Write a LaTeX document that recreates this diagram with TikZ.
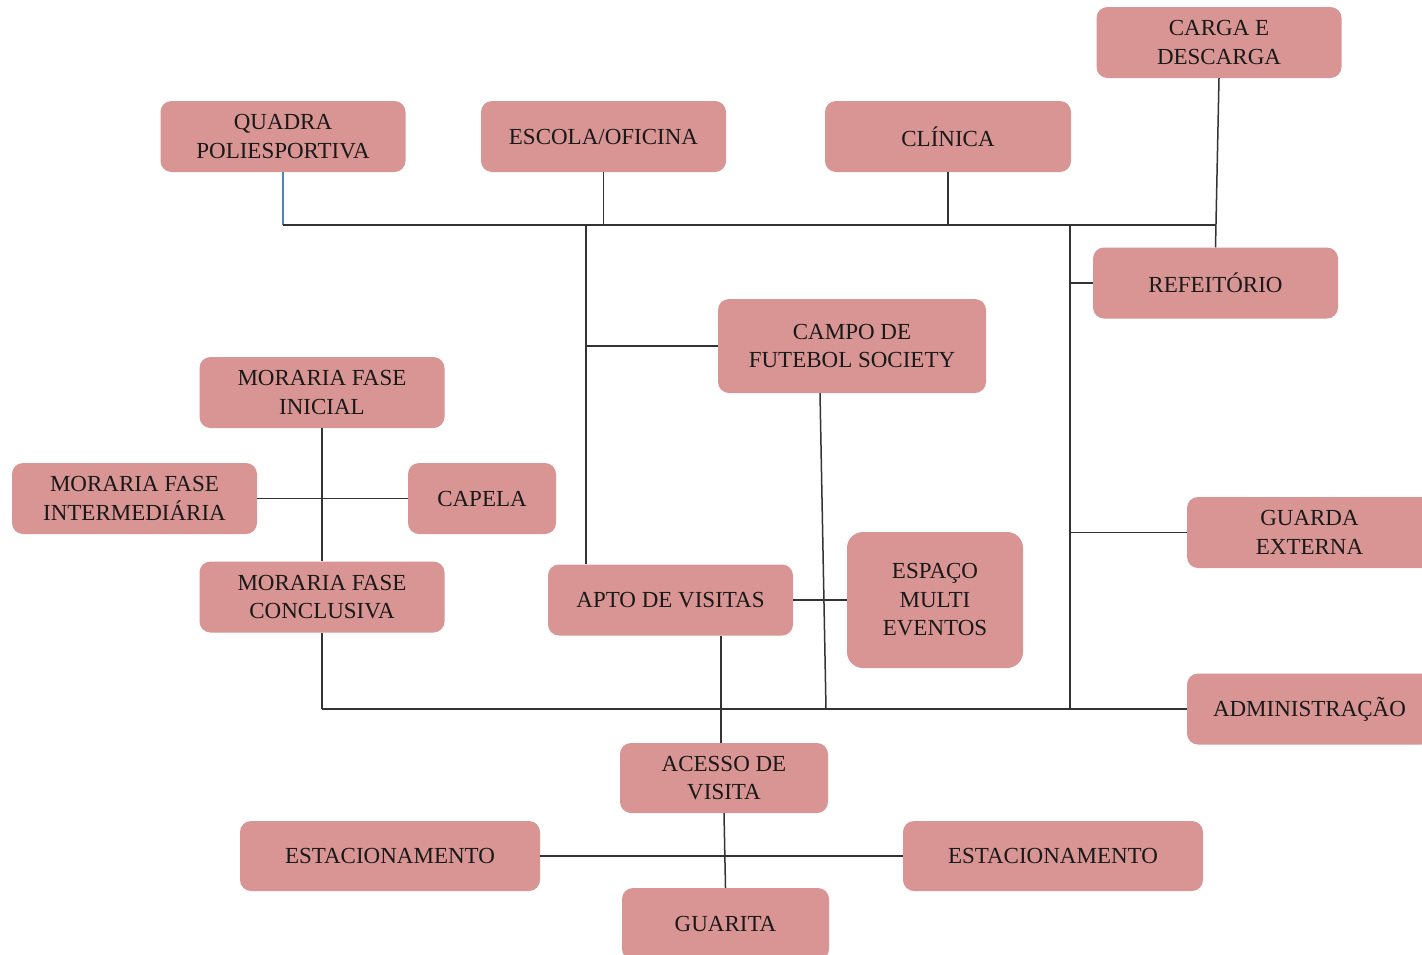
\documentclass[tikz,border=0pt]{standalone}
\usepackage{fontspec}
\setmainfont{Liberation Serif}
\usetikzlibrary{positioning}
\definecolor{rosa}{HTML}{D99594}
\definecolor{azul}{HTML}{4F81BD}

\begin{document}
\begin{tikzpicture}[x=1pt, y=-1pt,
	bloco/.style={fill=rosa, rounded corners=11pt, align=center, inner sep=0pt, minimum width=245pt, minimum height=71pt, font=\fontsize{23}{28.5}\selectfont, text=black!90},
	liga/.style={draw=black!80, line width=1.5pt}]
	\clip (0,0) rectangle (1422,954);
	\fill[white] (0,0) rectangle (1422,954);
	\node[bloco] (quadra) at (283,136.5) {QUADRA\\POLIESPORTIVA};
	\node[bloco] (escola) at (603.5,136.5) {ESCOLA/OFICINA};
	\node[bloco, minimum width=246pt] (clinica) at (948,136.5) {CLÍNICA};
	\node[bloco] (carga) at (1219,42.5) {CARGA E\\DESCARGA};
	\node[bloco] (refeitorio) at (1215.5,283) {REFEITÓRIO};
	\node[bloco, minimum width=268pt, minimum height=94pt] (campo) at (852,346) {CAMPO DE\\FUTEBOL SOCIETY};
	\node[bloco] (inicial) at (322,392.5) {MORARIA FASE\\INICIAL};
	\node[bloco] (intermediaria) at (134.5,498.5) {MORARIA FASE\\INTERMEDIÁRIA};
	\node[bloco, minimum width=148pt] (capela) at (482,498.5) {CAPELA};
	\node[bloco] (conclusiva) at (322,597) {MORARIA FASE\\CONCLUSIVA};
	\node[bloco] (apto) at (670.5,600) {APTO DE VISITAS};
	\node[bloco, minimum width=176pt, minimum height=136pt, rounded corners=16pt] (espaco) at (935,600) {ESPAÇO\\MULTI\\EVENTOS};
	\node[bloco] (guarda) at (1309.5,532.5) {GUARDA\\EXTERNA};
	\node[bloco] (administracao) at (1309.5,709) {ADMINISTRAÇÃO};
	\node[bloco, minimum width=208pt, minimum height=70pt] (acesso) at (724,778) {ACESSO DE\\VISITA};
	\node[bloco, minimum width=300pt, minimum height=70pt] (estac1) at (390,856) {ESTACIONAMENTO};
	\node[bloco, minimum width=300pt, minimum height=70pt] (estac2) at (1053,856) {ESTACIONAMENTO};
	\node[bloco, minimum width=207pt, minimum height=72pt] (guarita) at (725.5,924) {GUARITA};

	\coordinate (j1) at (586,225);
	\coordinate (j2) at (1070,225);
	\coordinate (j3) at (1215,225);
	\coordinate (j4) at (586,346);
	\coordinate (j5) at (1070,709);
	\coordinate (j6) at (322,709);
	\coordinate (j7) at (826,709);

	\draw[azul, line width=1.2pt] (quadra.south) -- (quadra.south |- j1);
	\draw[liga] (quadra.south |- j1) -- (j3);
	\draw[liga] (escola.south) -- (escola.south |- j1);
	\draw[liga] (clinica.south) -- (clinica.south |- j1);
	\draw[liga] (carga.south) -- (refeitorio.north);
	\draw[liga] (j1) -- (j1 |- apto.north);
	\draw[liga] (j4) -- (campo.west);
	\draw[liga] (j2) -- (j5);
	\draw[liga] (j2 |- refeitorio.west) -- (refeitorio.west);
	\draw[liga] (j2 |- guarda.west) -- (guarda.west);
	\draw[liga] (j6) -- (administracao.west);
	\draw[liga] (conclusiva.south) -- (j6);
	\draw[liga] (inicial.south) -- (conclusiva.north);
	\draw[liga] (intermediaria.east) -- (capela.west);
	\draw[liga] ([xshift=-32pt]campo.south) -- (j7);
	\draw[liga] (apto.east) -- (espaco.west);
	\draw[liga] ([xshift=-3pt]acesso.north |- apto.south) -- ([xshift=-3pt]acesso.north);
	\draw[liga] (acesso.south) -- (guarita.north);
	\draw[liga] (estac1.east) -- (estac2.west);
\end{tikzpicture}
\end{document}
